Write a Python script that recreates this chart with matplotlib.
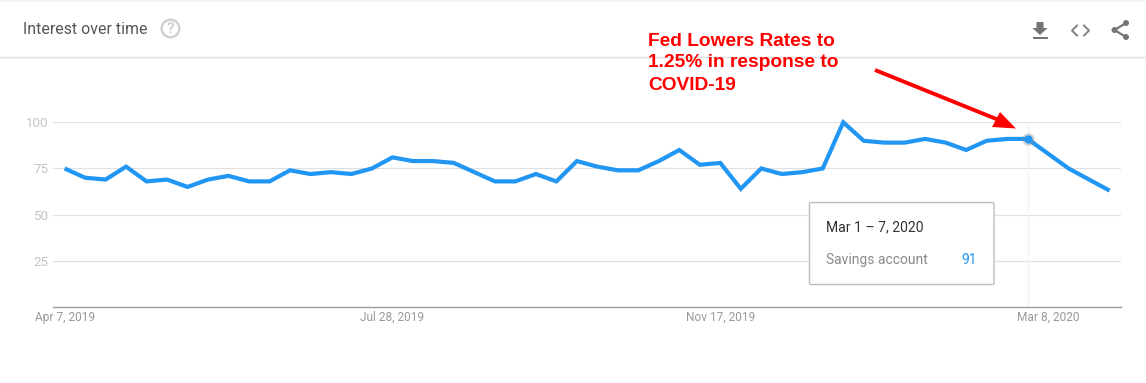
import matplotlib
matplotlib.use("Agg")
import matplotlib.pyplot as plt
from matplotlib.patches import Rectangle, Polygon, Circle, FancyBboxPatch

W, H = 1146, 383

weeks = list(range(52))
interest = [75, 70, 69, 76, 68, 69, 65, 69, 71, 68, 68, 74, 72, 73, 72, 75, 81, 79, 79, 78,
            73, 68, 68, 72, 68, 79, 76, 74, 74, 79, 85, 77, 78, 64, 75, 72, 73, 75, 100, 90,
            89, 89, 91, 89, 85, 90, 91, 91, 83, 75, 69, 63]
y_ticks = [25, 50, 75, 100]
x_tick_weeks = [0, 16, 32, 48]
x_tick_labels = ["Apr 7, 2019", "Jul 28, 2019", "Nov 17, 2019", "Mar 8, 2020"]
hover_week = 47
series_name = "Savings account"
hover_label = "Mar 1 \u2013 7, 2020"
annotation = "Fed Lowers Rates to\n1.25% in response to\nCOVID-19"

BLUE = "#2196f3"
plt.rcParams["font.family"] = ["Roboto", "DejaVu Sans"]
fig = plt.figure(figsize=(W / 100, H / 100), dpi=100, facecolor="white")

# main plot: pixel box 53..1121 horizontally, y=307 (0) to y=122.3 (100)
x0_px, x1_px = 53.0, 1121.0
top_px, bot_px = 122.3, 307.0
ax = fig.add_axes([x0_px / W, 1 - bot_px / H, (x1_px - x0_px) / W, (bot_px - top_px) / H])
step = 1045 / 51
ax.set_xlim((x0_px - 64.6) / step, (x1_px - 64.6) / step)
ax.set_ylim(0, 100)
ax.patch.set_alpha(0)
for s in ["top", "left", "right"]:
    ax.spines[s].set_visible(False)
ax.spines["bottom"].set_color("#9e9e9e")
ax.spines["bottom"].set_linewidth(1.0)
ax.set_yticks(y_ticks)
ax.set_yticklabels([str(v) for v in y_ticks], color="#c4c4c4", fontsize=9.6)
ax.set_xticks(x_tick_weeks)
ax.set_xticklabels(x_tick_labels, color="#9a9a9a", fontsize=8.6)
ax.tick_params(axis="both", length=0)
ax.tick_params(axis="x", pad=2.8)
ax.tick_params(axis="y", pad=3.5)
ax.grid(axis="y", color="#e0e0e0", linewidth=0.9)
ax.set_axisbelow(True)
ax.axvline(hover_week, color="#f2f2f2", linewidth=1.0, zorder=1)
ax.plot(weeks, interest, color=BLUE, linewidth=3.0, solid_joinstyle="miter",
        solid_capstyle="butt", zorder=3, clip_on=False)
ax.plot([hover_week], [interest[hover_week]], "o", color="#888888", alpha=0.35, markersize=9,
        markeredgewidth=0, zorder=4, clip_on=False)
ax.plot([hover_week], [interest[hover_week]], "o", color=BLUE, markersize=6,
        markeredgewidth=0, zorder=5, clip_on=False)

# overlay in pixel coordinates for page chrome
ov = fig.add_axes([0, 0, 1, 1])
ov.set_xlim(0, W)
ov.set_ylim(H, 0)
ov.axis("off")
ov.patch.set_alpha(0)

ov.add_patch(Rectangle((0, 0), W, 1.5, color="#f5f5f5", lw=0))
ov.plot([0, W], [57, 57], color="#e0e0e0", lw=1.0)
ov.text(23, 29.5, "Interest over time", fontsize=11.45, color="#555555", va="center", ha="left")
ov.add_patch(Circle((170.5, 28.5), 8.8, fill=False, ec="#cfcfcf", lw=1.7))
ov.text(170.5, 28.8, "?", fontsize=11, fontweight="bold", color="#cfcfcf", ha="center", va="center")

# download icon
ov.add_patch(Polygon([(1036.5, 22), (1043.5, 22), (1043.5, 28), (1047.5, 28), (1040, 35), (1032.5, 28), (1036.5, 28)],
                     color="#757575", lw=0))
ov.add_patch(Rectangle((1033, 37), 14.5, 1.8, color="#757575", lw=0))
# embed icon
ov.plot([1077, 1072, 1077], [25.5, 30.5, 35.5], color="#808080", lw=1.4)
ov.plot([1084, 1089, 1084], [25.5, 30.5, 35.5], color="#808080", lw=1.4)
# share icon
ov.plot([1126, 1114.5, 1126], [23, 30, 37], color="#757575", lw=1.6)
for cx, cy in [(1126, 23), (1114.5, 30), (1126, 37)]:
    ov.add_patch(Circle((cx, cy), 3.0, color="#757575", lw=0))

# annotation
ann_lines = annotation.split("\n")
for text, ypx in zip(ann_lines, [41, 62.5, 85]):
    ov.text(648, ypx, text, color="#ff0000", fontsize=13.8, fontweight="bold",
            family="Liberation Sans", va="center", ha="left")
ov.plot([875, 1000], [70, 120.5], color="#ff0000", lw=2.8, solid_capstyle="butt")
ov.add_patch(Polygon([(1016, 128.5), (992, 127), (1000, 112)], color="#ff0000", lw=0))

# tooltip
ov.add_patch(FancyBboxPatch((809.5, 202.5), 184.5, 82, boxstyle="round,pad=0,rounding_size=1.5",
                            fc="white", ec="#bdbdbd", lw=1.0, zorder=6))
ov.text(826, 227, hover_label, fontsize=10.1, color="#333333", va="center", ha="left", zorder=7)
ov.text(826, 260, series_name, fontsize=10.0, color="#8a8a8a", va="center", ha="left", zorder=7)
ov.text(977, 260, str(interest[hover_week]), fontsize=10.0, color=BLUE, va="center", ha="right", zorder=7)

fig.savefig("out.png", dpi=100, facecolor="white")
